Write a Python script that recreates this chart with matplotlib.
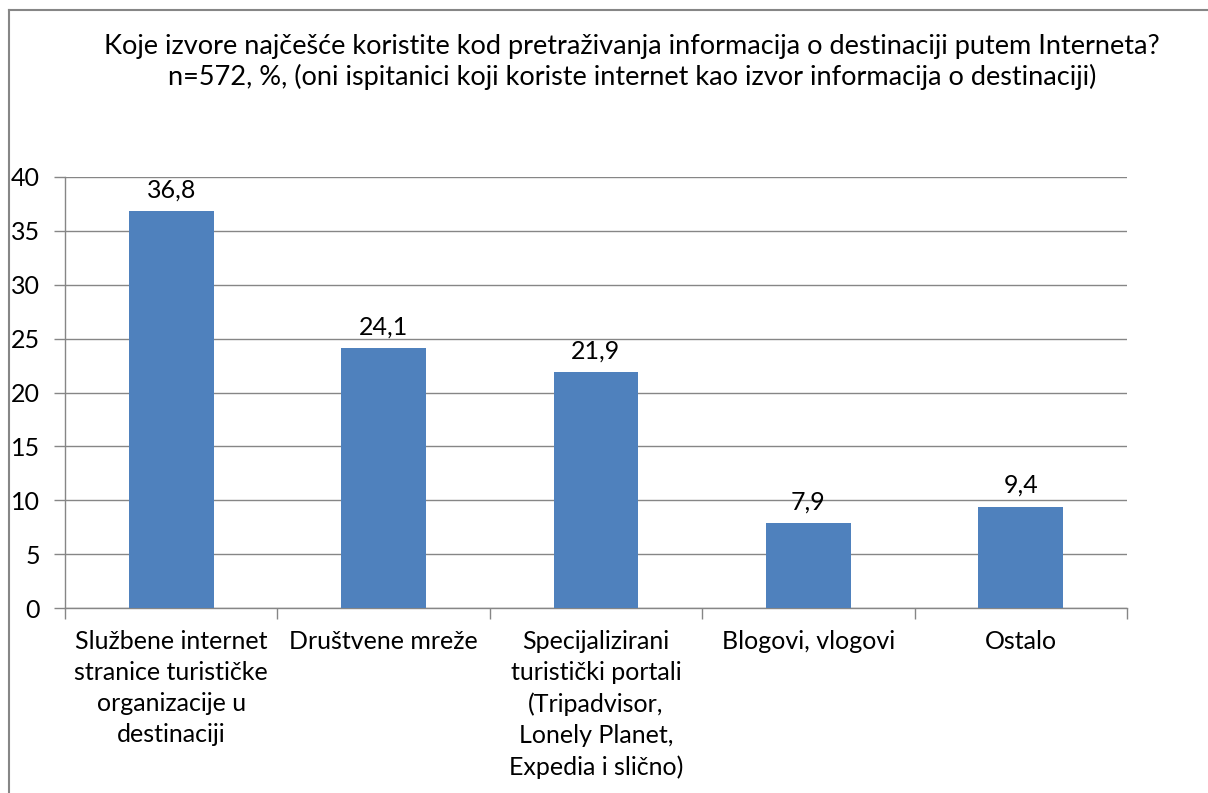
import matplotlib
matplotlib.use('Agg')
import matplotlib.pyplot as plt
from matplotlib.lines import Line2D

categories = [
    'Službene internet\nstranice turističke\norganizacije u\ndestinaciji',
    'Društvene mreže',
    'Specijalizirani\nturistički portali\n(Tripadvisor,\nLonely Planet,\nExpedia i slično)',
    'Blogovi, vlogovi',
    'Ostalo',
]
values = [36.8, 24.1, 21.9, 7.9, 9.4]
value_labels = ['36,8', '24,1', '21,9', '7,9', '9,4']
title = ('Koje izvore najčešće koristite kod pretraživanja informacija o destinaciji putem Interneta?\n'
         'n=572, %, (oni ispitanici koji koriste internet kao izvor informacija o destinaciji)')

plt.rcParams['font.family'] = ['Lato', 'DejaVu Sans']
fs = 18
W, H = 1208, 793

fig = plt.figure(figsize=(W / 100, H / 100), dpi=100)
ax = fig.add_axes([65 / W, 1 - 608 / H, (1127 - 65) / W, (608 - 177) / H])

x = list(range(len(values)))
ax.bar(x, values, width=0.4, color='#4F81BD', zorder=3)
for xi, v, lab in zip(x, values, value_labels):
    ax.annotate(lab, (xi, v), xytext=(0, 7), textcoords='offset points',
                ha='center', va='bottom', fontsize=fs)

ax.set_xlim(-0.5, len(values) - 0.5)
ax.set_ylim(0, 40)
ax.set_yticks(range(0, 41, 5))
ax.yaxis.grid(True, color='#868686', linewidth=1, zorder=0)

# kategorije ispod stupaca, crtice na granicama
ax.set_xticks([i - 0.5 for i in range(len(values) + 1)])
ax.set_xticklabels([])
ax.set_xticks(x, minor=True)
ax.set_xticklabels(categories, minor=True, fontsize=fs, linespacing=1.42, va='top')
ax.tick_params(axis='x', which='minor', length=0, pad=16)
ax.tick_params(axis='x', which='major', length=8, color='#868686', width=1)
ax.tick_params(axis='y', length=8, color='#868686', width=1, labelsize=fs, pad=10)

for s in ['top', 'right']:
    ax.spines[s].set_visible(False)
for s in ['left', 'bottom']:
    ax.spines[s].set_color('#868686')
    ax.spines[s].set_linewidth(1)

fig.text(632 / W, 1 - 62 / H, title, ha='center', va='center',
         fontsize=19.5, linespacing=1.25)

# okvir grafikona (desni i donji rub izvan slike)
fig.add_artist(Line2D([9 / W, 1], [1 - 10 / H, 1 - 10 / H], transform=fig.transFigure,
                      color='#868686', linewidth=1.5))
fig.add_artist(Line2D([9 / W, 9 / W], [0, 1 - 10 / H], transform=fig.transFigure,
                      color='#868686', linewidth=1.5))

fig.savefig('out.png', dpi=100)
